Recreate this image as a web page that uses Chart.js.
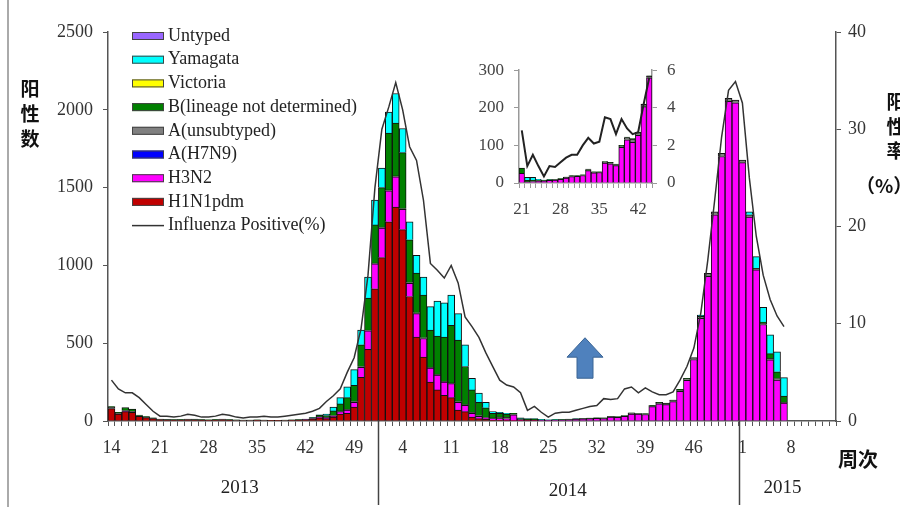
<!DOCTYPE html>
<html>
<head>
<meta charset="utf-8">
<script src="https://cdn.jsdelivr.net/npm/chart.js@4.4.0/dist/chart.umd.min.js"></script>
<style>
  html, body { margin: 0; padding: 0; background: #fff; }
  #wrap { position: relative; width: 900px; height: 507px; overflow: hidden; background: #fff; }
  #mainCanvas { position: absolute; left: 0; top: 0; }
  #insetCanvas { position: absolute; left: 460px; top: 50px; }
</style>
</head>
<body>
<div id="wrap">
  <canvas id="mainCanvas" width="900" height="507"></canvas>
  <canvas id="insetCanvas" width="230" height="175"></canvas>
</div>
<script>
// week numbers on the x axis (2013 wk14 .. 2015 wk14)
const weeks2013 = [14, 15, 16, 17, 18, 19, 20, 21, 22, 23, 24, 25, 26, 27, 28, 29, 30, 31, 32, 33,
  34, 35, 36, 37, 38, 39, 40, 41, 42, 43, 44, 45, 46, 47, 48, 49, 50, 51, 52];
const weeks2014 = [1, 2, 3, 4, 5, 6, 7, 8, 9, 10, 11, 12, 13, 14, 15, 16, 17, 18, 19, 20,
  21, 22, 23, 24, 25, 26, 27, 28, 29, 30, 31, 32, 33, 34, 35, 36, 37, 38, 39, 40,
  41, 42, 43, 44, 45, 46, 47, 48, 49, 50, 51, 52];
const weeks2015 = [1, 2, 3, 4, 5, 6, 7, 8, 9, 10, 11, 12, 13, 14];

// positive counts per week (data stops at 2015 wk7)
const h1n1pdm = [
  80, 45, 60, 55, 30, 22, 15, 8, 7, 5,
  6, 8, 7, 5, 4, 6, 8, 5, 3, 3,
  3, 4, 3, 2, 2, 3, 4, 5, 7, 12,
  20, 15, 25, 45, 50, 90, 280, 460, 850, 1050,
  1280, 1375, 1230, 800, 540, 410, 250, 200, 165, 150,
  70, 60, 25, 15, 10, 5, 5, 4, 2, 2,
  1, 1, 0, 0, 0, 0, 0, 0, 0, 0,
  0, 0, 0, 0, 0, 0, 0, 0, 0, 0,
  0, 0, 0, 0, 0, 0, 0, 0, 0, 0,
  0, 0, 0, 0, 0, 0, 0, 0];
const h3n2 = [
  0, 0, 2, 2, 0, 0, 0, 0, 0, 0,
  0, 0, 0, 0, 0, 0, 0, 0, 0, 0,
  0, 0, 0, 0, 0, 0, 0, 0, 1, 2,
  3, 3, 5, 15, 20, 30, 65, 120, 160, 190,
  200, 195, 130, 85, 150, 120, 90, 95, 85, 90,
  50, 40, 25, 15, 10, 10, 10, 10, 38, 5,
  2, 3, 2, 2, 4, 5, 7, 10, 13, 15,
  17, 15, 25, 23, 30, 45, 44, 42, 92, 110,
  105, 125, 190, 262, 395, 660, 930, 1325, 1700, 2055,
  2045, 1660, 1310, 971, 620, 393, 263, 115];
const h7n9 = [
  0, 0, 0, 0, 0, 0, 0, 0, 0, 0,
  0, 0, 0, 0, 0, 0, 0, 0, 0, 0,
  0, 0, 0, 0, 0, 0, 0, 0, 0, 0,
  0, 0, 0, 0, 0, 0, 0, 0, 0, 0,
  0, 0, 0, 0, 0, 0, 0, 0, 0, 0,
  0, 0, 0, 0, 0, 0, 0, 0, 0, 0,
  0, 0, 0, 0, 0, 0, 0, 0, 0, 0,
  0, 0, 0, 0, 0, 0, 0, 0, 0, 0,
  0, 0, 0, 0, 0, 0, 0, 0, 0, 0,
  0, 0, 0, 0, 0, 0, 0, 0];
const aUnsubtyped = [
  8, 5, 5, 5, 3, 3, 2, 2, 2, 2,
  2, 2, 2, 2, 2, 2, 2, 2, 2, 2,
  2, 2, 2, 2, 2, 2, 2, 2, 2, 3,
  4, 5, 5, 5, 5, 5, 5, 5, 5, 5,
  5, 5, 5, 5, 5, 5, 5, 5, 5, 5,
  5, 5, 5, 5, 5, 5, 10, 10, 5, 3,
  2, 2, 2, 2, 2, 2, 2, 2, 2, 2,
  2, 3, 3, 3, 3, 5, 4, 4, 6, 8,
  8, 8, 10, 10, 12, 12, 19, 20, 20, 19,
  18, 17, 15, 10, 10, 10, 10, 5];
const bLineage = [
  5, 5, 20, 15, 5, 3, 3, 2, 2, 2,
  2, 3, 3, 2, 2, 2, 3, 2, 2, 1,
  1, 1, 1, 1, 1, 1, 1, 2, 2, 5,
  10, 12, 30, 45, 75, 105, 140, 205, 245, 255,
  365, 340, 360, 275, 255, 275, 240, 245, 285, 370,
  395, 245, 145, 85, 60, 30, 25, 21, 5, 5,
  5, 5, 3, 2, 2, 2, 2, 2, 2, 2,
  2, 2, 2, 2, 2, 2, 2, 2, 2, 2,
  2, 2, 3, 2, 0, 0, 0, 0, 0, 0,
  0, 0, 0, 0, 5, 30, 43, 40];
const victoria = [
  0, 0, 0, 0, 0, 0, 0, 0, 0, 0,
  0, 0, 0, 0, 0, 0, 0, 0, 0, 0,
  0, 0, 0, 0, 0, 0, 0, 0, 0, 0,
  0, 0, 0, 0, 0, 0, 0, 0, 0, 0,
  0, 0, 0, 0, 0, 0, 0, 0, 0, 0,
  0, 0, 0, 0, 0, 0, 0, 0, 0, 0,
  0, 0, 0, 0, 0, 0, 0, 0, 0, 0,
  0, 0, 0, 0, 0, 0, 0, 0, 0, 0,
  0, 0, 0, 0, 0, 0, 0, 0, 0, 0,
  0, 0, 0, 0, 0, 0, 0, 0];
const yamagata = [
  0, 0, 0, 0, 0, 0, 0, 0, 0, 0,
  0, 0, 0, 0, 0, 0, 0, 0, 0, 0,
  0, 0, 0, 0, 0, 0, 0, 0, 0, 2,
  3, 10, 25, 40, 70, 100, 95, 135, 160, 125,
  135, 190, 155, 115, 115, 115, 150, 225, 220, 195,
  170, 140, 75, 60, 35, 10, 5, 5, 0, 5,
  6, 4, 3, 2, 2, 1, 1, 1, 0, 0,
  0, 0, 0, 0, 0, 0, 0, 0, 0, 0,
  0, 0, 0, 0, 0, 9, 0, 0, 0, 0,
  0, 0, 20, 75, 95, 120, 129, 119];
const untyped = [
  0, 0, 0, 0, 0, 0, 0, 0, 0, 0,
  0, 0, 0, 0, 0, 0, 0, 0, 0, 0,
  0, 0, 0, 0, 0, 0, 0, 0, 0, 0,
  0, 0, 0, 0, 0, 0, 0, 0, 0, 0,
  0, 0, 0, 0, 0, 0, 0, 0, 0, 0,
  0, 0, 0, 0, 0, 0, 0, 0, 0, 0,
  0, 0, 0, 0, 0, 0, 0, 0, 0, 0,
  0, 0, 0, 0, 0, 0, 0, 0, 0, 0,
  0, 0, 0, 0, 0, 0, 0, 0, 0, 0,
  0, 0, 0, 0, 0, 0, 0, 0];

// influenza positive rate (%), right axis
const positivePct = [
  4.2, 3.3, 2.9, 2.9, 2.4, 1.7, 1.0, 0.5, 0.5, 0.4,
  0.5, 0.7, 0.6, 0.4, 0.4, 0.5, 0.7, 0.6, 0.4, 0.3,
  0.4, 0.4, 0.5, 0.4, 0.4, 0.5, 0.6, 0.7, 0.8, 1.0,
  1.3, 2.0, 2.6, 3.3, 5.0, 6.5, 9.5, 15.0, 24.0, 30.0,
  32.3, 34.8, 32.0, 28.2, 26.8, 22.7, 16.2, 15.5, 14.7, 16.0,
  14.2, 10.7, 9.7, 8.6, 7.0, 5.6, 4.2, 3.7, 3.5, 2.9,
  1.1, 1.5, 0.9, 0.4, 0.8, 0.9, 0.9, 1.1, 1.3, 1.5,
  1.6, 2.3, 2.2, 2.3, 3.3, 3.5, 2.9, 3.4, 3.0, 2.7,
  2.7, 3.0, 4.2, 5.6, 7.5, 11.1, 16.5, 22.7, 29.2, 34.0,
  34.9, 32.7, 25.0, 19.0, 15.0, 12.5, 10.8, 9.7];

// inset: 2014 wk21 - wk44
const insetWeeks = [21, 22, 23, 24, 25, 26, 27, 28, 29, 30, 31, 32,
  33, 34, 35, 36, 37, 38, 39, 40, 41, 42, 43, 44];
const insetH3N2 = [26, 3, 4, 5, 5, 7, 8, 10, 13, 17, 18, 20,
  33, 27, 28, 53, 51, 46, 95, 115, 108, 127, 203, 280];
const insetAUnsub = [0, 0, 0, 1, 1, 1, 1, 1, 2, 2, 1, 1,
  3, 2, 1, 3, 3, 3, 4, 6, 9, 7, 6, 4];
const insetB = [14, 4, 4, 2, 1, 1, 1, 1, 1, 1, 1, 1,
  1, 1, 1, 1, 1, 1, 1, 1, 1, 1, 1, 1];
const insetYamagata = [0, 8, 7, 2, 1, 1, 0, 0, 0, 0, 0, 0,
  0, 0, 0, 0, 0, 0, 0, 0, 0, 0, 0, 0];
const insetPct = [2.8, 0.9, 1.5, 0.9, 0.35, 0.9, 0.85, 1.1, 1.35, 1.5, 1.5, 2.0,
  2.4, 2.1, 2.2, 3.5, 3.4, 2.6, 3.4, 2.9, 2.6, 2.7, 4.2, 5.6];

const SERIF = '"Liberation Serif", "Times New Roman", serif';
const CJK = '"Noto Sans CJK SC", sans-serif';

document.addEventListener('DOMContentLoaded', function () {
  drawMainChart();
  drawInsetChart();
});

function barSet(label, data, color) {
  return {
    type: 'bar', label: label, data: data,
    backgroundColor: color, borderColor: '#111', borderWidth: 1,
    yAxisID: 'y', order: 1,
    categoryPercentage: 1, barPercentage: 1
  };
}

function axisGrid(color) {
  return { drawOnChartArea: false, drawTicks: true, tickLength: 5, color: color, lineWidth: 1 };
}

// plain numbers, no thousands separator
function plainTick(value) {
  return String(value);
}

// legend drawn as a column inside the plot, top item = top of the stack
const mainLegend = {
  id: 'mainLegend',
  afterDraw(chart) {
    const ctx = chart.ctx;
    const bars = chart.data.datasets.filter(d => d.type === 'bar').reverse();
    const lines = chart.data.datasets.filter(d => d.type === 'line');
    const items = bars.concat(lines);
    ctx.save();
    ctx.font = '18px ' + SERIF;
    ctx.textBaseline = 'middle';
    let y = 36;
    items.forEach(ds => {
      if (ds.type === 'line') {
        ctx.strokeStyle = ds.borderColor;
        ctx.lineWidth = 1.5;
        ctx.beginPath();
        ctx.moveTo(132, y);
        ctx.lineTo(164, y);
        ctx.stroke();
      } else {
        ctx.fillStyle = ds.backgroundColor;
        ctx.fillRect(132, y - 4, 32, 8);
        ctx.strokeStyle = '#444';
        ctx.lineWidth = 1;
        ctx.strokeRect(132.5, y - 3.5, 31, 7);
      }
      ctx.fillStyle = '#222';
      ctx.fillText(ds.label, 168, y);
      y += 23.7;
    });
    ctx.restore();
  }
};

// axis titles, year dividers, arrow
const mainDecor = {
  id: 'mainDecor',
  afterDraw(chart) {
    const ctx = chart.ctx;
    const xs = chart.scales.x;
    const ys = chart.scales.y;
    const area = chart.chartArea;
    ctx.save();

    // frame line at the far left
    ctx.strokeStyle = '#aaa';
    ctx.lineWidth = 2;
    ctx.beginPath();
    ctx.moveTo(8, 0);
    ctx.lineTo(8, 507);
    ctx.stroke();

    // year dividers
    const start2014 = weeks2013.length;
    const start2015 = weeks2013.length + weeks2014.length;
    ctx.strokeStyle = '#444';
    ctx.lineWidth = 1.5;
    [start2014, start2015].forEach(i => {
      const x = Math.round((xs.getPixelForValue(i - 1) + xs.getPixelForValue(i)) / 2) + 0.5;
      ctx.beginPath();
      ctx.moveTo(x, area.bottom);
      ctx.lineTo(x, 505);
      ctx.stroke();
    });

    ctx.fillStyle = '#222';
    ctx.textAlign = 'center';
    ctx.textBaseline = 'middle';
    ctx.font = '19px ' + SERIF;
    yearLabels.forEach(l => ctx.fillText(l.text, xs.getPixelForValue(l.at), l.y));

    ctx.font = 'bold 19px ' + CJK;
    ctx.fillStyle = '#111';
    ['阳', '性', '数'].forEach((c, k) => ctx.fillText(c, 30, 89 + k * 25));
    ['阳', '性', '率'].forEach((c, k) => ctx.fillText(c, 896, 102 + k * 24.5));
    ctx.textAlign = 'left';
    ctx.fillText('（%）', 856, 186);
    ctx.font = 'bold 20px ' + CJK;
    ctx.fillText('周次', 838, 459);

    // blue up arrow
    const cx = xs.getPixelForValue(arrowAt.index);
    const top = ys.getPixelForValue(arrowAt.top);
    const bottom = ys.getPixelForValue(arrowAt.bottom);
    const neck = top + (bottom - top) * 0.48;
    ctx.beginPath();
    ctx.moveTo(cx, top);
    ctx.lineTo(cx + 18, neck);
    ctx.lineTo(cx + 8, neck);
    ctx.lineTo(cx + 8, bottom);
    ctx.lineTo(cx - 8, bottom);
    ctx.lineTo(cx - 8, neck);
    ctx.lineTo(cx - 18, neck);
    ctx.closePath();
    ctx.fillStyle = '#4f81bd';
    ctx.fill();
    ctx.strokeStyle = '#3a6494';
    ctx.lineWidth = 1;
    ctx.stroke();
    ctx.restore();
  }
};

const yearLabels = [
  { text: '2013', at: 18.5, y: 488 },
  { text: '2014', at: 65.8, y: 491 },
  { text: '2015', at: 96.8, y: 488 }
];
const arrowAt = { index: 68.3, top: 535, bottom: 275 };

function drawMainChart() {
  const ctx = document.getElementById('mainCanvas').getContext('2d');
  const labels = weeks2013.concat(weeks2014, weeks2015);

  const datasets = [
    barSet('H1N1pdm', h1n1pdm, '#c00000'),
    barSet('H3N2', h3n2, '#ff00ff'),
    barSet('A(H7N9)', h7n9, '#0000ff'),
    barSet('A(unsubtyped)', aUnsubtyped, '#808080'),
    barSet('B(lineage not determined)', bLineage, '#008000'),
    barSet('Victoria', victoria, '#ffff00'),
    barSet('Yamagata', yamagata, '#00ffff'),
    barSet('Untyped', untyped, '#9966ff'),
    {
      type: 'line', label: 'Influenza Positive(%)', data: positivePct,
      borderColor: '#333', borderWidth: 1.5, pointRadius: 0, tension: 0,
      fill: false, yAxisID: 'y1', order: 0
    }
  ];

  new Chart(ctx, {
    type: 'bar',
    data: { labels: labels, datasets: datasets },
    options: {
      responsive: false,
      animation: false,
      layout: { padding: { top: 32, left: 0, right: 0, bottom: 0 } },
      plugins: { legend: { display: false }, tooltip: { enabled: false } },
      scales: {
        x: {
          stacked: true,
          grid: axisGrid('#555'),
          border: { color: '#555', width: 1.5 },
          ticks: {
            autoSkip: false, maxRotation: 0, padding: 11,
            color: '#333', font: { family: SERIF, size: 18 },
            callback: function (value, index) {
              return index % 7 === 0 ? this.getLabelForValue(value) : '';
            }
          },
          afterFit: function (scale) { scale.height = 86; }
        },
        y: {
          stacked: true, min: 0, max: 2500, position: 'left',
          grid: axisGrid('#555'),
          border: { color: '#555', width: 1.5 },
          ticks: { stepSize: 500, padding: 10, color: '#333', font: { family: SERIF, size: 18 }, callback: plainTick },
          afterFit: function (scale) { scale.width = 108; }
        },
        y1: {
          min: 0, max: 40, position: 'right',
          grid: axisGrid('#555'),
          border: { color: '#555', width: 1.5 },
          ticks: { stepSize: 10, padding: 7, color: '#333', font: { family: SERIF, size: 18 }, callback: plainTick },
          afterFit: function (scale) { scale.width = 64; }
        }
      }
    },
    plugins: [mainLegend, mainDecor]
  });
}

function drawInsetChart() {
  const ctx = document.getElementById('insetCanvas').getContext('2d');

  const datasets = [
    barSet('H3N2', insetH3N2, '#ff00ff'),
    barSet('A(unsubtyped)', insetAUnsub, '#808080'),
    barSet('B(lineage not determined)', insetB, '#008000'),
    barSet('Yamagata', insetYamagata, '#00ffff'),
    {
      type: 'line', label: 'Influenza Positive(%)', data: insetPct,
      borderColor: '#222', borderWidth: 2, pointRadius: 0, tension: 0,
      fill: false, yAxisID: 'y1', order: 0
    }
  ];

  new Chart(ctx, {
    type: 'bar',
    data: { labels: insetWeeks, datasets: datasets },
    options: {
      responsive: false,
      animation: false,
      layout: { padding: { top: 18, left: 0, right: 0, bottom: 0 } },
      plugins: { legend: { display: false }, tooltip: { enabled: false } },
      scales: {
        x: {
          stacked: true,
          grid: axisGrid('#999'),
          border: { color: '#999', width: 1.5 },
          ticks: {
            autoSkip: false, maxRotation: 0, padding: 11,
            color: '#444', font: { family: SERIF, size: 17 },
            callback: function (value, index) {
              return index % 7 === 0 ? this.getLabelForValue(value) : '';
            }
          },
          afterFit: function (scale) { scale.height = 42; }
        },
        y: {
          stacked: true, min: 0, max: 300, position: 'left',
          grid: axisGrid('#999'),
          border: { color: '#999', width: 1.5 },
          ticks: { stepSize: 100, padding: 10, color: '#444', font: { family: SERIF, size: 17 }, callback: plainTick },
          afterFit: function (scale) { scale.width = 59; }
        },
        y1: {
          min: 0, max: 6, position: 'right',
          grid: axisGrid('#999'),
          border: { color: '#999', width: 1.5 },
          ticks: { stepSize: 2, padding: 10, color: '#444', font: { family: SERIF, size: 17 }, callback: plainTick },
          afterFit: function (scale) { scale.width = 38; }
        }
      }
    }
  });
}
</script>
</body>
</html>
